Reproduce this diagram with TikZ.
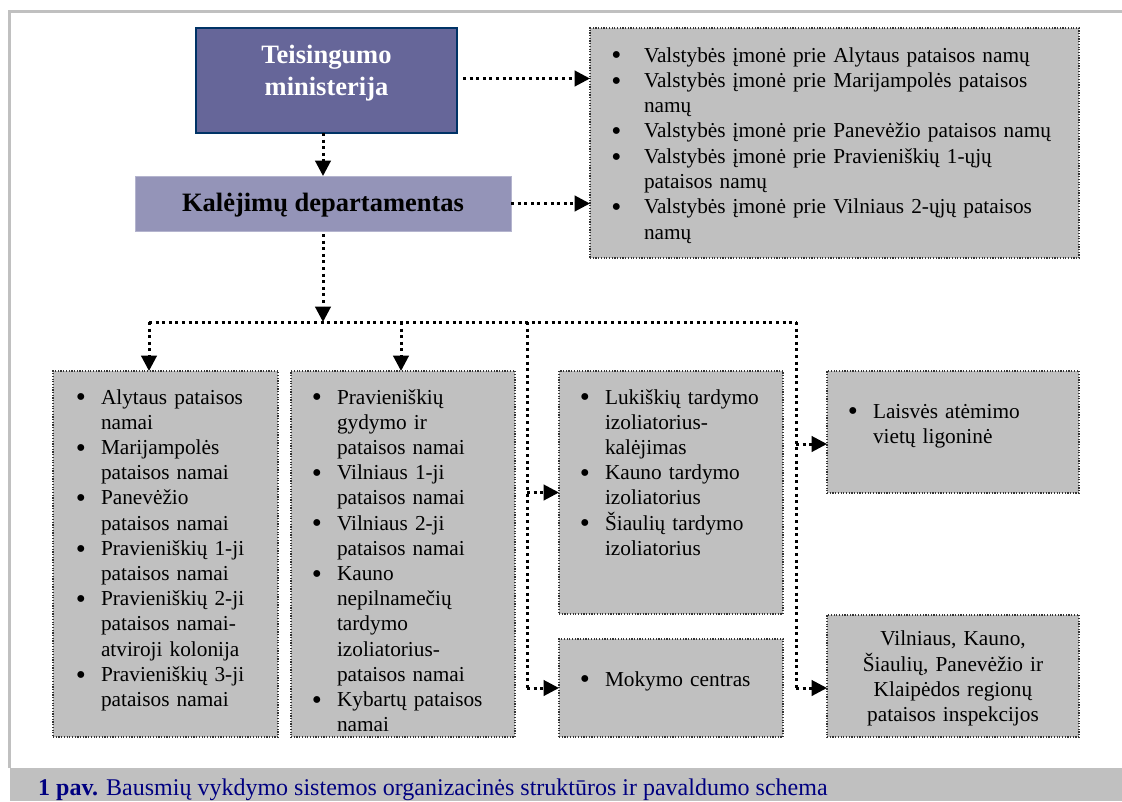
\documentclass[tikz,border=0pt]{standalone}
\usepackage{fontspec}
\usepackage{graphicx}
\setmainfont{Liberation Serif}
\usetikzlibrary{arrows.meta,calc}
\definecolor{boxgray}{HTML}{C0C0C0}
\definecolor{minfill}{HTML}{666699}
\definecolor{minborder}{HTML}{003366}
\definecolor{kalfill}{HTML}{9494B8}
\definecolor{kalborder}{HTML}{B4B4CE}
\definecolor{capblue}{HTML}{000080}
\definecolor{dotgray}{HTML}{333333}
\newlength\bulgap
\newcommand\bitem[1]{\strut\llap{\smash{\raisebox{-2.8pt}{\scalebox{1.35}{\textbullet}}}\hspace{\bulgap}}#1\par}
\begin{document}
\begin{tikzpicture}[x=1pt,y=-1pt,
  gbox/.style={draw=dotgray, fill=boxgray, line width=1.2pt, dash pattern=on 1.2pt off 1.5pt, inner sep=0pt, outer sep=0pt, anchor=north west},
  txt/.style={inner sep=0pt, outer sep=0pt, anchor=north west, align=left, font=\fontsize{21.3}{25.2}\selectfont},
  conn/.style={draw=black, line width=3pt, dash pattern=on 3pt off 3.6pt},
  arr/.style={conn, -{Triangle[length=15.5pt,width=15.5pt]}},
  headfont/.style={font=\bfseries\fontsize{26.5}{32}\selectfont}
  ]
\useasboundingbox (0,0) rectangle (1122,801);
% frame and caption band
\draw[boxgray, line width=3pt] (9,768) -- (9,11) -- (1122,11);
\node[fill=boxgray, minimum width=1112pt, minimum height=33pt, anchor=north west, inner sep=0pt, outer sep=0pt] (band) at (10,768) {};
% boxes
\node[draw=minborder, fill=minfill, line width=1.5pt, minimum width=261pt, minimum height=105pt, anchor=north west, inner sep=0pt, outer sep=0pt] (min) at (196,28) {};
\node[draw=kalborder, fill=kalfill, line width=1pt, minimum width=376pt, minimum height=55pt, anchor=north west, inner sep=0pt, outer sep=0pt] (kal) at (135,176) {};
\node[gbox, minimum width=489pt, minimum height=230pt] (vs) at (590,28) {};
\node[gbox, minimum width=225pt, minimum height=366pt] (A) at (53,371) {};
\node[gbox, minimum width=224pt, minimum height=366pt] (B) at (291,371) {};
\node[gbox, minimum width=224pt, minimum height=243pt] (C) at (559,371) {};
\node[gbox, minimum width=224pt, minimum height=98pt] (D) at (559,639) {};
\node[gbox, minimum width=252pt, minimum height=122pt] (E) at (827,371) {};
\node[gbox, minimum width=252pt, minimum height=122pt] (F) at (827,615) {};
% texts (north = first baseline - strut height)
\node[headfont, text=white, anchor=north, inner sep=0pt, text width=261pt, align=center] (tmin) at (326.5,40.6) {\strut Teisingumo\\ministerija};
\node[headfont, anchor=base, inner sep=0pt] (tkal) at (323,211) {Kalėjimų departamentas};
\node[txt, text width=430pt, font=\fontsize{21.3}{25.3}\selectfont] (tvs) at (644,44.3) {\setlength\bulgap{22.6pt}%
\bitem{Valstybės įmonė prie Alytaus pataisos namų}%
\bitem{Valstybės įmonė prie Marijampolės pataisos\\namų}%
\bitem{Valstybės įmonė prie Panevėžio pataisos namų}%
\bitem{Valstybės įmonė prie Pravieniškių 1-ųjų\\pataisos namų}%
\bitem{Valstybės įmonė prie Vilniaus 2-ųjų pataisos\\namų}};
\node[txt, text width=170pt] (tA) at (101,386.4) {\setlength\bulgap{15pt}%
\bitem{Alytaus pataisos\\namai}%
\bitem{Marijampolės\\pataisos namai}%
\bitem{Panevėžio\\pataisos namai}%
\bitem{Pravieniškių 1-ji\\pataisos namai}%
\bitem{Pravieniškių 2-ji\\pataisos namai-\\atviroji kolonija}%
\bitem{Pravieniškių 3-ji\\pataisos namai}};
\node[txt, text width=170pt] (tB) at (337,386.4) {\setlength\bulgap{15pt}%
\bitem{Pravieniškių\\gydymo ir\\pataisos namai}%
\bitem{Vilniaus 1-ji\\pataisos namai}%
\bitem{Vilniaus 2-ji\\pataisos namai}%
\bitem{Kauno\\nepilnamečių\\tardymo\\izoliatorius-\\pataisos namai}%
\bitem{Kybartų pataisos\\namai}};
\node[txt, text width=170pt] (tC) at (605,386.4) {\setlength\bulgap{15pt}%
\bitem{Lukiškių tardymo\\izoliatorius-\\kalėjimas}%
\bitem{Kauno tardymo\\izoliatorius}%
\bitem{Šiaulių tardymo\\izoliatorius}};
\node[txt, text width=170pt] (tD) at (605,668.4) {\setlength\bulgap{15pt}%
\bitem{Mokymo centras}};
\node[txt, text width=200pt] (tE) at (873,400.4) {\setlength\bulgap{15pt}%
\bitem{Laisvės atėmimo\\vietų ligoninė}};
\node[txt, anchor=north, text width=240pt, align=center, font=\fontsize{21.3}{25}\selectfont] (tF) at (953,627.5) {\strut Vilniaus, Kauno,\\Šiaulių, Panevėžio ir\\Klaipėdos regionų\\pataisos inspekcijos};
\node[anchor=base west, inner sep=0pt, text=capblue, font=\fontsize{24}{28}\selectfont] (cap) at (38,795) {\textbf{1 pav.} Bausmių vykdymo sistemos organizacinės struktūros ir pavaldumo schema};
% junction coordinates
\coordinate (jA) at (149,322);
\coordinate (jK) at (323,322);
\coordinate (jB) at (401,322);
\coordinate (jC) at (527,322);
\coordinate (jE) at (796,322);
\coordinate (inE) at ($(E.west)+(0,12)$);
\coordinate (inF) at ($(F.west)+(0,12)$);
\coordinate (fromMin) at ($(min.east)+(6,-2)$);
% connectors
\draw[arr] (min.south -| kal.north) -- (kal.north);
\draw[arr] (fromMin) -- (fromMin -| vs.west);
\draw[arr] (kal.east) -- (kal.east -| vs.west);
\draw[arr, shorten <=3pt] (kal.south) -- (jK);
\draw[conn] (jA) -- (jE);
\draw[arr] (jA) -- (jA |- A.north);
\draw[arr] (jB) -- (jB |- B.north);
\draw[conn] (jC) -- (jC |- D.west);
\draw[arr] (jC |- C.west) -- (C.west);
\draw[arr] (jC |- D.west) -- (D.west);
\draw[conn] (jE) -- (jE |- inF);
\draw[arr] (jE |- inE) -- (inE);
\draw[arr] (jE |- inF) -- (inF);
\end{tikzpicture}
\end{document}
